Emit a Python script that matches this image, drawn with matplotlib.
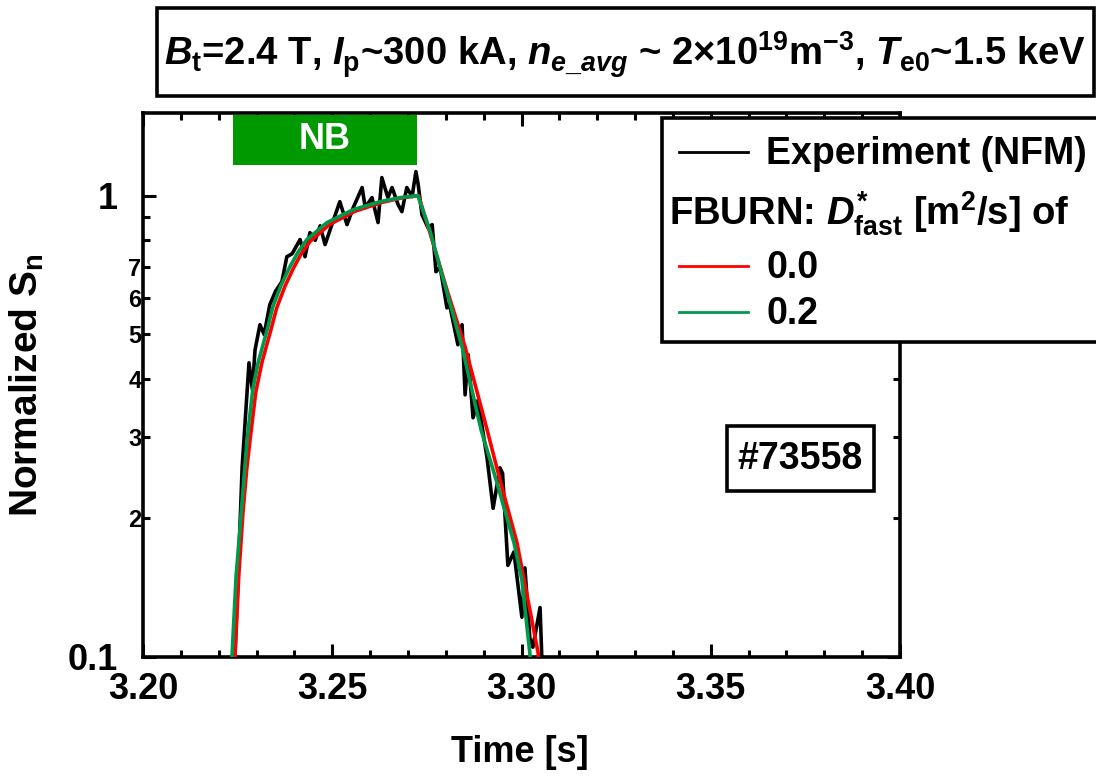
import matplotlib
matplotlib.use("Agg")
import matplotlib.pyplot as plt
from matplotlib.lines import Line2D
from matplotlib.patches import Rectangle
from matplotlib.ticker import FixedLocator, FixedFormatter, MultipleLocator, FormatStrFormatter
from matplotlib.transforms import blended_transform_factory

plt.rcParams['font.family'] = ['Liberation Sans', 'DejaVu Sans']
plt.rcParams['font.weight'] = 'bold'
plt.rcParams['mathtext.fontset'] = 'custom'
plt.rcParams['mathtext.rm'] = 'Liberation Sans:bold'
plt.rcParams['mathtext.it'] = 'Liberation Sans:bold:italic'
plt.rcParams['mathtext.bf'] = 'Liberation Sans:bold'

# experiment (neutron flux monitor), normalized
exp_t = [3.2236, 3.2243, 3.2251, 3.2262, 3.2280, 3.2289, 3.2296, 3.2309, 3.2320, 3.2335,
         3.2350, 3.2367, 3.2380, 3.2394, 3.2415, 3.2428, 3.2441, 3.2455, 3.2468, 3.2481,
         3.2499, 3.2520, 3.2539, 3.2555, 3.2579, 3.2587, 3.2605, 3.2621, 3.2631, 3.2647,
         3.2658, 3.2674, 3.2684, 3.2697, 3.2711, 3.2721, 3.2727, 3.2737, 3.2753, 3.2764,
         3.2774, 3.2785, 3.2803, 3.2810, 3.2832, 3.2843, 3.2851, 3.2859, 3.2872, 3.2885,
         3.2909, 3.2925, 3.2943, 3.2950, 3.2964, 3.2980, 3.3001, 3.3009, 3.3022, 3.3030,
         3.3049, 3.3054]
exp_sn = [0.095, 0.102, 0.147, 0.258, 0.434, 0.380, 0.463, 0.525, 0.500, 0.580,
          0.620, 0.651, 0.737, 0.748, 0.803, 0.737, 0.831, 0.800, 0.860, 0.783,
          0.865, 0.970, 0.865, 0.940, 1.041, 0.942, 0.990, 0.874, 1.094, 0.990,
          1.041, 0.956, 0.923, 1.041, 0.995, 1.127, 1.057, 0.909, 0.852, 0.865,
          0.684, 0.700, 0.571, 0.580, 0.475, 0.525, 0.370, 0.452, 0.330, 0.360,
          0.270, 0.210, 0.257, 0.250, 0.158, 0.169, 0.122, 0.156, 0.110, 0.105,
          0.128, 0.098]

# FBURN, D*fast = 0.0
d00_t = [3.2242, 3.2243, 3.2253, 3.2264, 3.2274, 3.2283, 3.2298, 3.2314, 3.2338, 3.2353,
         3.2375, 3.2397, 3.2418, 3.2441, 3.2493, 3.2560, 3.2630, 3.2682, 3.2728,
         3.2758, 3.2803, 3.2851, 3.2909, 3.2943, 3.2988, 3.3044, 3.3046]
d00_sn = [0.095, 0.100, 0.150, 0.205, 0.255, 0.296, 0.375, 0.434, 0.512, 0.570,
          0.636, 0.695, 0.748, 0.795, 0.866, 0.925, 0.966, 0.988, 1.000,
          0.831, 0.625, 0.470, 0.311, 0.242, 0.177, 0.102, 0.095]

# FBURN, D*fast = 0.2
d02_t = [3.2234, 3.2235, 3.2246, 3.2256, 3.2266, 3.2275, 3.2290, 3.2304, 3.2328, 3.2343,
         3.2365, 3.2388, 3.2410, 3.2433, 3.2486, 3.2555, 3.2626, 3.2680, 3.2726,
         3.2758, 3.2801, 3.2843, 3.2893, 3.2933, 3.2980, 3.3001, 3.3022, 3.3024]
d02_sn = [0.095, 0.100, 0.150, 0.189, 0.240, 0.296, 0.380, 0.434, 0.512, 0.574,
          0.640, 0.701, 0.755, 0.803, 0.874, 0.932, 0.970, 0.990, 1.000,
          0.840, 0.625, 0.470, 0.311, 0.242, 0.177, 0.147, 0.102, 0.095]

nb_on, nb_off = 3.2237, 3.2724
shot = "#73558"
minor_vals = [0.2, 0.3, 0.4, 0.5, 0.6, 0.7, 0.8, 0.9]
minor_labels = ['2', '3', '4', '5', '6', '7', '', '']

W, H = 1096, 778


def fx(px):
    return px / W


def fy(py):
    return 1 - py / H


fig = plt.figure(figsize=(W / 100, H / 100), dpi=100)
ax = fig.add_axes([fx(143), fy(657), fx(900) - fx(143), fy(113) - fy(657)])

ax.plot(exp_t, exp_sn, color='black', lw=2.6, zorder=2)
ax.plot(d00_t, d00_sn, color='#ff0000', lw=2.6, zorder=3)
ax.plot(d02_t, d02_sn, color='#00994c', lw=2.6, zorder=4)

ax.set_yscale('log')
ax.set_ylim(0.1, 1.51)
ax.set_xlim(3.20, 3.40)

ax.yaxis.set_major_locator(FixedLocator([0.1, 1.0]))
ax.yaxis.set_major_formatter(FixedFormatter(['0.1', '1']))
ax.yaxis.set_minor_locator(FixedLocator(minor_vals))
ax.yaxis.set_minor_formatter(FixedFormatter(minor_labels))
ax.xaxis.set_major_locator(MultipleLocator(0.05))
ax.xaxis.set_minor_locator(MultipleLocator(0.01))
ax.xaxis.set_major_formatter(FormatStrFormatter('%.2f'))

ax.tick_params(which='both', direction='in', top=True, right=True, width=2.2)
ax.tick_params(which='major', length=9.5)
ax.tick_params(which='minor', length=5)
ax.tick_params(axis='x', which='major', labelsize=26, pad=11)
ax.tick_params(axis='y', which='major', labelsize=26, pad=18)
ax.tick_params(axis='y', which='minor', labelsize=17, pad=1)
for sp in ax.spines.values():
    sp.set_linewidth(2.6)

ax.set_xlabel('Time [s]', fontsize=26, fontweight='bold')
ax.xaxis.set_label_coords(0.498, -0.143)
ax.set_ylabel('Normalized $\\mathrm{S}_\\mathrm{n}$', fontsize=28, fontweight='bold')
ax.yaxis.set_label_coords(-0.128, 0.5)

# NB injection bar
trans = blended_transform_factory(ax.transData, ax.transAxes)
ax.add_patch(Rectangle((nb_on, 0.904), nb_off - nb_on, 0.093, transform=trans,
                       facecolor='#009900', edgecolor='none', zorder=5))
ax.text((nb_on + nb_off) / 2, 0.951, 'NB', transform=trans, color='white',
        fontsize=26, ha='center', va='center', zorder=6)

# title box
fig.add_artist(Rectangle((fx(157), fy(96)), fx(1094) - fx(157), fy(8) - fy(96),
                         transform=fig.transFigure, fill=False, lw=2.6, edgecolor='black'))
fig.text(fx(625), fy(55),
         '$\\mathit{B}_\\mathrm{t}$=2.4 T, $\\mathit{I}_\\mathrm{p}$~300 kA, '
         '$\\mathit{n}_{\\mathit{e\\_avg}}$ ~ 2\u00d710$^{19}$m$^{-3}$, '
         '$\\mathit{T}_\\mathrm{e0}$~1.5 keV',
         fontsize=27.5, ha='center', va='center')

# shot number box
fig.add_artist(Rectangle((fx(727), fy(491)), fx(874) - fx(727), fy(426) - fy(491),
                         transform=fig.transFigure, fill=False, lw=2.6, edgecolor='black'))
fig.text(fx(800), fy(459), shot, fontsize=27, ha='center', va='center')

# legend
fig.add_artist(Rectangle((fx(662), fy(342)), 1.05 - fx(662), fy(118) - fy(342),
                         transform=fig.transFigure, facecolor='white', lw=2.6,
                         edgecolor='black', clip_on=False))
legend_rows = [('black', 'Experiment (NFM)', 152),
               ('#ff0000', '0.0', 266),
               ('#00994c', '0.2', 312)]
for col, lab, py in legend_rows:
    fig.add_artist(Line2D([fx(679), fx(748)], [fy(py), fy(py)], color=col, lw=2,
                          transform=fig.transFigure))
    fig.text(fx(766), fy(py + 2), lab, fontsize=27, ha='left', va='center')
fig.text(fx(669), fy(214), 'FBURN: $\\mathit{D}^{*}_{\\mathrm{fast}}$ [m$^{2}$/s] of',
         fontsize=27.5, ha='left', va='center')

fig.savefig('out.png', dpi=100)
